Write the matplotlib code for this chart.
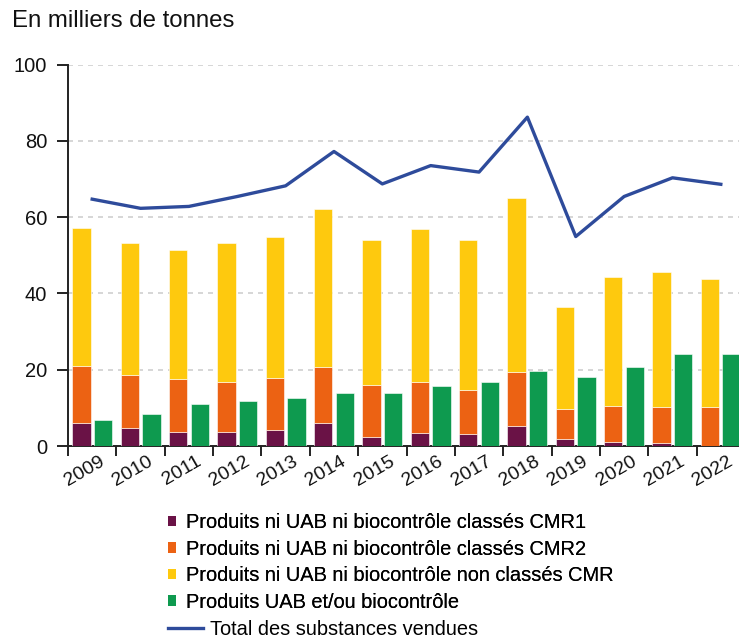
import numpy as np
import matplotlib
matplotlib.use('Agg')
import matplotlib.pyplot as plt
from matplotlib.lines import Line2D
from matplotlib.patches import Patch

plt.rcParams['font.family'] = ['Liberation Sans', 'DejaVu Sans']

years = [str(y) for y in range(2009, 2023)]
cmr1 = [5.9, 4.6, 3.7, 3.8, 4.1, 6.0, 2.3, 3.5, 3.2, 5.3, 1.8, 1.0, 0.7, 0.1]
cmr2_top = [21.0, 18.5, 17.5, 16.8, 17.9, 20.7, 16.1, 16.9, 14.8, 19.4, 9.7, 10.5, 10.3, 10.1]
total_top = [57.1, 53.2, 51.3, 53.2, 54.9, 62.0, 53.9, 56.8, 53.9, 65.1, 36.5, 44.3, 45.6, 43.8]
uab = [6.9, 8.5, 11.1, 11.8, 12.7, 14.0, 13.9, 15.7, 16.8, 19.7, 18.0, 20.6, 24.1, 24.1]
total_line = [64.7, 62.3, 62.8, 65.4, 68.2, 77.2, 68.7, 73.5, 71.8, 86.2, 54.9, 65.4, 70.3, 68.6]

cmr2 = np.array(cmr2_top) - np.array(cmr1)
noncmr = np.array(total_top) - np.array(cmr2_top)

c_cmr1 = '#6a1246'
c_cmr2 = '#ec6213'
c_non = '#fec90e'
c_uab = '#0e9a4f'
c_line = '#2e4b9b'

fig = plt.figure(figsize=(7.39, 6.42), dpi=100)
ax = fig.add_axes([68 / 739, 196 / 642, 677 / 739, 381.5 / 642])

x = np.arange(len(years))
w = 0.38
off = 0.224
ax.bar(x - off, cmr1, w, color=c_cmr1, edgecolor='white', linewidth=0.4, zorder=3)
ax.bar(x - off, cmr2, w, bottom=cmr1, color=c_cmr2, edgecolor='white', linewidth=0.4, zorder=3)
ax.bar(x - off, noncmr, w, bottom=cmr2_top, color=c_non, edgecolor='white', linewidth=0.4, zorder=3)
ax.bar(x + off, uab, w, color=c_uab, edgecolor='white', linewidth=0.4, zorder=3)
ax.plot(x, total_line, color=c_line, linewidth=2.4, zorder=4)

ax.set_xlim(-0.5, len(years) - 0.5)
ax.set_ylim(0, 100)

for y in [20, 40, 60, 80, 100]:
    ax.axhline(y, color='#cfcfcf', linewidth=1.2, linestyle=(0, (3, 3)), zorder=1)

ax.set_yticks([0, 20, 40, 60, 80, 100])
ax.tick_params(axis='y', length=8, width=1.4, pad=7, labelsize=14.5, color='#222222', labelcolor='#111111')

ax.set_xticks(x - 0.5)
ax.set_xticklabels([])
ax.set_xticks(x + 0.14, minor=True)
ax.set_xticklabels(years, minor=True)
ax.tick_params(axis='x', which='major', length=7.5, width=1.4, color='#222222')
ax.tick_params(axis='x', which='minor', length=0, pad=5, labelsize=14, labelcolor='#111111')
plt.setp(ax.get_xticklabels(minor=True), rotation=30, ha='right', rotation_mode='anchor')

for s in ['top', 'right']:
    ax.spines[s].set_visible(False)
ax.spines['left'].set_linewidth(1.4)
ax.spines['bottom'].set_linewidth(1.4)
ax.spines['left'].set_color('#222222')
ax.spines['bottom'].set_color('#222222')

fig.text(12 / 739, 1 - 21 / 642, 'En milliers de tonnes', fontsize=17.3, color='#111111', va='center', ha='left')

patches = [
    Patch(facecolor=c_cmr1, label='Produits ni UAB ni biocontrôle classés CMR1'),
    Patch(facecolor=c_cmr2, label='Produits ni UAB ni biocontrôle classés CMR2'),
    Patch(facecolor=c_non, label='Produits ni UAB ni biocontrôle non classés CMR'),
    Patch(facecolor=c_uab, label='Produits UAB et/ou biocontrôle'),
]
leg1 = fig.legend(handles=patches, loc='upper left', bbox_to_anchor=(168 / 739, 1 - 513 / 642),
                  frameon=False, fontsize=14.4, handlelength=0.42, handleheight=0.42,
                  handletextpad=0.5, labelspacing=0.38, borderaxespad=0, borderpad=0)
fig.add_artist(leg1)
line_h = [Line2D([0], [0], color=c_line, linewidth=2.4, label='Total des substances vendues')]
fig.legend(handles=line_h, loc='upper left', bbox_to_anchor=(168 / 739, 1 - 620 / 642),
           frameon=False, fontsize=14.4, handlelength=1.75, handletextpad=0.35,
           borderaxespad=0, borderpad=0)

fig.savefig('out.png', dpi=100)
